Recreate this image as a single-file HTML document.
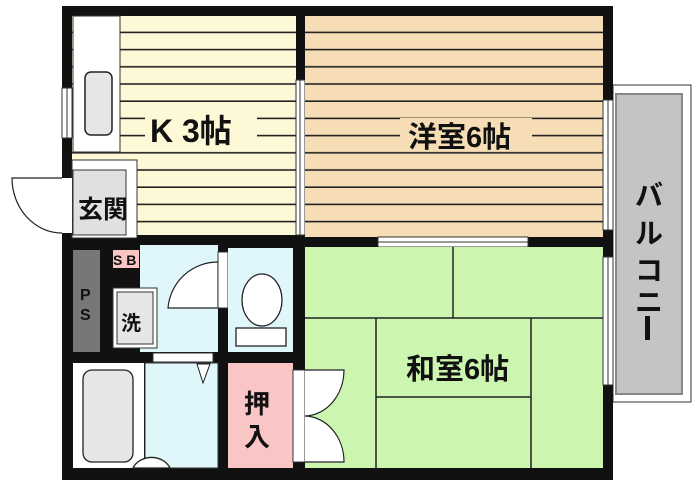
<!DOCTYPE html>
<html><head><meta charset="utf-8"><style>
html,body{margin:0;padding:0;background:#fff;width:700px;height:488px;overflow:hidden}
svg{display:block}
text{font-family:"Liberation Sans","Noto Sans CJK JP",sans-serif;font-weight:bold;fill:#111}
</style></head><body>
<svg width="700" height="488" viewBox="0 0 700 488" xmlns="http://www.w3.org/2000/svg">
<defs>
<pattern id="kl" x="0" y="16" width="10" height="17.2" patternUnits="userSpaceOnUse">
<rect width="10" height="17.2" fill="#fdf8d6"/><rect y="15.6" width="10" height="1.6" fill="#222"/></pattern>
<pattern id="wl" x="0" y="16" width="10" height="17.2" patternUnits="userSpaceOnUse">
<rect width="10" height="17.2" fill="#f6ddb5"/><rect y="15.6" width="10" height="1.6" fill="#222"/></pattern>
</defs>
<rect x="613" y="85" width="78" height="317" fill="#fff" stroke="#333" stroke-width="1"/>
<rect x="616" y="94" width="66" height="300" fill="#c4c4c4" stroke="#888" stroke-width="2"/>
<text x="649" y="205" font-size="28" text-anchor="middle">バ</text>
<text x="649" y="243" font-size="28" text-anchor="middle">ル</text>
<text x="649" y="280" font-size="28" text-anchor="middle">コ</text>
<text x="649" y="312" font-size="28" text-anchor="middle">ニ</text>
<rect x="645" y="316" width="5" height="24" fill="#111"/>
<rect x="62" y="6" width="551" height="474" fill="#111"/>
<rect x="72" y="16" width="224" height="219" fill="url(#kl)"/>
<rect x="73" y="16" width="47" height="136" fill="#fff" stroke="#333"/>
<rect x="85" y="72" width="27" height="63" rx="6" fill="#e6e6e6" stroke="#222" stroke-width="1.5"/>
<rect x="72" y="160" width="65" height="78" fill="#fff" stroke="#333"/>
<rect x="73" y="170" width="53" height="65" fill="#e0e0e0" stroke="#333"/>
<text x="78" y="218" font-size="25">玄関</text>
<rect x="145" y="105" width="112" height="42" fill="#fdf8d6"/>
<text x="150" y="142" font-size="32">K 3帖</text>
<rect x="296" y="80" width="9" height="155" fill="#fff" stroke="#333"/>
<line x1="300" y1="80" x2="300" y2="235" stroke="#333"/>
<rect x="305" y="16" width="298" height="221" fill="url(#wl)"/>
<rect x="400" y="118" width="132" height="32" fill="#f6ddb5"/>
<text x="408" y="147" font-size="29">洋室6帖</text>
<rect x="378" y="237" width="150" height="10" fill="#fff" stroke="#333"/>
<line x1="378" y1="242" x2="528" y2="242" stroke="#333"/>
<rect x="305" y="247" width="298" height="221" fill="#ccf5b0"/>
<g stroke="#222" stroke-width="1.5" fill="none">
<line x1="305" y1="318" x2="603" y2="318"/>
<line x1="453" y1="247" x2="453" y2="318"/>
<line x1="376" y1="318" x2="376" y2="468"/>
<line x1="531" y1="318" x2="531" y2="468"/>
<line x1="376" y1="397" x2="531" y2="397"/>
</g>
<text x="406" y="379" font-size="29">和室6帖</text>
<rect x="603" y="100" width="10" height="130" fill="#fff" stroke="#333"/>
<line x1="608" y1="100" x2="608" y2="230" stroke="#333"/>
<rect x="603" y="257" width="10" height="128" fill="#fff" stroke="#333"/>
<line x1="608" y1="257" x2="608" y2="385" stroke="#333"/>
<rect x="62" y="88" width="10" height="50" fill="#fff" stroke="#333"/>
<line x1="67" y1="88" x2="67" y2="138" stroke="#333"/>
<rect x="62" y="178" width="10" height="55" fill="#fff"/>
<path d="M62 178 L12 178 A50 55 0 0 0 62 233" fill="#fff" stroke="#222" stroke-width="1.2"/>
<rect x="73" y="250" width="27" height="102" fill="#777"/>
<text x="80" y="300" font-size="16">P</text>
<text x="80" y="320" font-size="16">S</text>
<rect x="113" y="250" width="26" height="18" fill="#f9c5c5"/>
<text x="113" y="265" font-size="14">S B</text>
<rect x="140" y="245" width="78" height="107" fill="#dff6fb"/>
<rect x="113" y="288" width="44" height="60" fill="#fff" stroke="#333"/>
<rect x="117" y="292" width="36" height="52" fill="#e6e6e6" stroke="#333"/>
<text x="121" y="330" font-size="20">洗</text>
<path d="M218 262 A50 50 0 0 0 168 308 L218 308 Z" fill="#fff" stroke="#222" stroke-width="1.2"/>
<rect x="218" y="252" width="10" height="56" fill="#fff" stroke="#333"/>
<rect x="228" y="248" width="65" height="104" fill="#dff6fb"/>
<ellipse cx="262" cy="300" rx="20" ry="26" fill="#fff" stroke="#222" stroke-width="1.3"/>
<rect x="236" y="328" width="50" height="18" fill="#fff" stroke="#222" stroke-width="1.3"/>
<rect x="153" y="353" width="60" height="9" fill="#fff" stroke="#333"/>
<rect x="73" y="363" width="71" height="105" fill="#fff"/>
<rect x="83" y="370" width="50" height="92" rx="9" fill="#e6e6e6" stroke="#222" stroke-width="1.3"/>
<rect x="145" y="363" width="73" height="105" fill="#dff6fb" stroke="#333"/>
<path d="M197 364 L210 364 L203 383 Z" fill="#fff" stroke="#222"/>
<path d="M133 468 A20 17 0 0 1 170 468 Z" fill="#fff" stroke="#222" stroke-width="1.3"/>
<rect x="228" y="363" width="65" height="105" fill="#f9c5c5"/>
<text x="244" y="413" font-size="26">押</text>
<text x="244" y="446" font-size="26">入</text>
<rect x="293" y="370" width="12" height="92" fill="#fff" stroke="#333"/>
<path d="M305 370 L344 370 A40 46 0 0 1 305 416 A40 46 0 0 1 344 462 L305 462" fill="#fff" stroke="#222" stroke-width="1.2"/>
</svg>
</body></html>
